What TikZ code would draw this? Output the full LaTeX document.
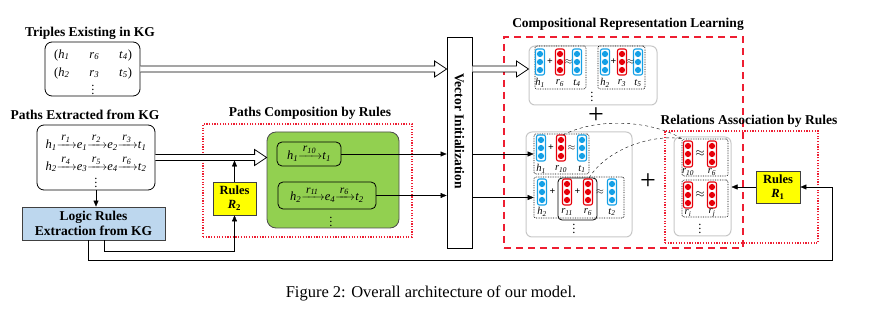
\documentclass[tikz,border=0pt]{standalone}
\usepackage{fontspec}
\setmainfont{Liberation Serif}
\usepackage{amsmath}
\usetikzlibrary{arrows.meta,calc,positioning}

\definecolor{kgblue}{RGB}{189,215,238}
\definecolor{kggreen}{RGB}{146,208,80}
\definecolor{kgyellow}{RGB}{255,255,0}
\definecolor{vecblue}{RGB}{20,160,230}
\definecolor{vecred}{RGB}{230,0,10}
\definecolor{kgred}{RGB}{238,30,50}

\newcommand{\sym}[2]{\textit{#1}\textsubscript{\textit{#2}}}
\newcommand{\lto}[2]{$\xrightarrow{\mbox{\fontsize{11.5}{11.5}\selectfont\,\sym{#1}{#2}\,}}$}
% hollow double arrow between two points at the same height
\newcommand{\hollowarrow}[2]{%
  \draw[line width=0.8pt, fill=white] ($(#1)+(0,-3)$) -- ($(#2)+(-12,-3)$) -- ($(#2)+(-12,-8)$)
    -- (#2) -- ($(#2)+(-12,8)$) -- ($(#2)+(-12,3)$) -- ($(#1)+(0,3)$);}

\tikzset{
  title/.style={font=\fontsize{13.5}{15}\selectfont\bfseries, inner sep=0pt},
  row/.style={font=\fontsize{12.5}{14}\selectfont, inner sep=0pt},
  lab/.style={font=\fontsize{10.5}{11}\selectfont, inner sep=0pt},
  op/.style={font=\fontsize{10}{10}\selectfont\bfseries, inner sep=0pt},
  bigplus/.style={font=\fontsize{28}{28}\selectfont, inner sep=0pt},
  kgbox/.style={draw, line width=0.8pt, rounded corners=7pt, inner sep=0pt},
  logicbox/.style={draw=black!75, line width=0.8pt, fill=kgblue, align=center,
    font=\fontsize{13.5}{15}\selectfont\bfseries, inner sep=0pt},
  rulebox/.style={draw=black!75, line width=0.8pt, fill=kgyellow, align=center,
    font=\fontsize{12.5}{14}\selectfont\bfseries, inner sep=0pt},
  graybox/.style={draw=black!22, line width=1pt, rounded corners=6pt, inner sep=0pt},
  grp/.style={draw, densely dotted, line width=0.7pt, rounded corners=2pt, inner sep=0pt},
  reddot/.style={draw=kgred, dash pattern=on 1.2pt off 1.5pt, line width=1.1pt, inner sep=0pt},
  reddash/.style={draw=kgred, dash pattern=on 7pt off 5pt, line width=1.2pt, inner sep=0pt},
  pics/vec/.style={code={
    \draw[#1, line width=1.1pt, fill=white, rounded corners=2pt] (-4.5,-13) rectangle (4.5,13);
    \foreach \k in {-8,0,8} \fill[#1] (0,\k) circle (3.1);
  }}
}

\begin{document}
\begin{tikzpicture}[x=1pt,y=-1pt,>={Triangle[length=6pt,width=5pt]}]
\useasboundingbox (0,0) rectangle (870,312);

% Triples existing in KG
\node[title] (ttrip) at (90,33) {Triples Existing in KG};
\node[kgbox, minimum width=95pt, minimum height=54pt] (trip) at (92.5,69) {};
\node[row] (trow1) at (93,55) {(\sym{h}{1}\hspace{20pt}\sym{r}{6}\hspace{20pt}\sym{t}{4})};
\node[row] (trow2) at (93,73) {(\sym{h}{2}\hspace{20pt}\sym{r}{3}\hspace{20pt}\sym{t}{5})};
\node[row] (tdots) at (93,87) {$\vdots$};

% Paths extracted from KG
\node[title] (tpath) at (85,115) {Paths Extracted from KG};
\node[kgbox, minimum width=118pt, minimum height=65pt] (paths) at (96,157.5) {};
\node[row] (prow1) at (96,142) {\sym{h}{1}\lto{r}{1}\sym{e}{1}\lto{r}{2}\sym{e}{2}\lto{r}{3}\sym{t}{1}};
\node[row] (prow2) at (96,164) {\sym{h}{2}\lto{r}{4}\sym{e}{3}\lto{r}{5}\sym{e}{4}\lto{r}{6}\sym{t}{2}};
\node[row] (pdots) at (96,180) {$\vdots$};

% Logic rules extraction
\node[logicbox, minimum width=143pt, minimum height=33pt] (logic) at (93.5,223.5) {Logic Rules\\Extraction from KG};
\draw[->] (paths.south) -- (paths.south |- logic.north);

% Paths composition by rules
\node[title] (tcomp) at (310,113) {Paths Composition by Rules};
\node[reddot, minimum width=209pt, minimum height=113pt] (pcr) at (307.5,180.5) {};
\node[draw=black!70, line width=0.8pt, fill=kggreen, rounded corners=9pt, minimum width=132pt, minimum height=96pt] (green) at (333,180) {};
\node[kgbox, fill=kggreen, rounded corners=5pt, minimum width=64pt, minimum height=24pt] (pc1) at (309,154) {};
\node[row] (pc1t) at (309,153) {\sym{h}{1}\lto{r}{10}\sym{t}{1}};
\node[kgbox, fill=kggreen, rounded corners=5pt, minimum width=98pt, minimum height=27pt] (pc2) at (327,195.5) {};
\node[row] (pc2t) at (327,194.5) {\sym{h}{2}\lto{r}{11}\sym{e}{4}\lto{r}{6}\sym{t}{2}};
\node[row] (gdots) at (331,219) {$\vdots$};
\node[rulebox, minimum width=43pt, minimum height=33pt] (R2) at (234.5,198.5) {Rules\\\textit{R}\textsubscript{2}};

% Vector initialization
\node[draw, line width=0.8pt, fill=white, minimum width=25pt, minimum height=211pt] (vinit) at (459.5,142.5) {};
\node[title, rotate=-90] (vtxt) at (459.5,131) {Vector Initialization};

% hollow arrows
\coordinate (a1e) at (vinit.west |- trip.east);
\hollowarrow{trip.east}{a1e}
\coordinate (a2e) at (green.west |- paths.east);
\hollowarrow{paths.east}{a2e}

% rules R2 feed
\coordinate (r2top) at (R2.north |- 0,160.5);
\coordinate (r2bend) at (R2.south |- 0,251);
\draw[->] (R2.north) -- (r2top);
\draw[->] ([xshift=10.5pt]logic.south) |- (r2bend) -- (R2.south);

% composed paths to vector initialization
\draw[->] (pc1.east) -- (pc1.east -| vinit.west);
\draw[->] (pc2.east) -- (pc2.east -| vinit.west);

% Compositional representation learning
\node[title] (tcrl) at (628,24) {Compositional Representation Learning};
\node[reddash, minimum width=239pt, minimum height=211pt] (crl) at (623.5,142.5) {};
\node[graybox, minimum width=128pt, minimum height=59pt] (topg) at (593,75.5) {};
\node[grp, minimum width=51pt, minimum height=43pt] (g1) at (560.5,67.5) {};
\node[grp, minimum width=47pt, minimum height=43pt] (g2) at (621.5,67.5) {};
\foreach \x/\c/\s [count=\i] in {540/vecblue/\sym{h}{1}, 560/vecred/\sym{r}{6}, 577/vecblue/\sym{t}{4},
    605/vecblue/\sym{h}{2}, 622/vecred/\sym{r}{3}, 638/vecblue/\sym{t}{5}} {
  \pic at (\x,62) {vec=\c};
  \node[lab] (tl\i) at (\x,83) {\s};
}
\node[op] (o1) at (550,62) {+};
\node[op] (o2) at (568.5,62) {$\approx$};
\node[op] (o3) at (613.5,62) {+};
\node[op] (o4) at (630.5,62) {$\approx$};
\node[row] (topdots) at (592,94) {$\vdots$};
\node[bigplus] (plus1) at (596,116) {+};

\node[graybox, minimum width=106pt, minimum height=105pt] (botg) at (579,184.5) {};
\node[grp, minimum width=55pt, minimum height=40pt] (gA) at (561.5,154) {};
\node[grp, minimum width=90pt, minimum height=41pt] (gB) at (579,197.5) {};
\node[draw, line width=0.8pt, rounded corners=4pt, minimum width=39pt, minimum height=42pt] (gBin) at (577.5,199) {};
\foreach \x/\c/\s [count=\i] in {541/vecblue/\sym{h}{1}, 561/vecred/\sym{r}{10}, 582/vecblue/\sym{t}{1}} {
  \pic at (\x,148) {vec=\c};
  \node[lab] (al\i) at (\x,169) {\s};
}
\foreach \x/\c/\s [count=\i] in {542/vecblue/\sym{h}{2}, 567/vecred/\sym{r}{11}, 588/vecred/\sym{r}{6}, 612/vecblue/\sym{t}{2}} {
  \pic at (\x,192) {vec=\c};
  \node[lab] (bl\i) at (\x,212) {\s};
}
\node[op] (o5) at (551,148) {+};
\node[op] (o6) at (571.5,148) {$\approx$};
\node[op] (o7) at (552.5,192) {+};
\node[op] (o8) at (577.5,192) {+};
\node[op] (o9) at (600,192) {$\approx$};
\node[row] (botdots) at (574,226) {$\vdots$};
\node[bigplus] (plus2) at (648,182) {+};

\draw[->] (vinit.east |- gA.west) -- (gA.west);
\draw[->] (vinit.east |- gB.west) -- (gB.west);
\hollowarrow{vinit.east |- trip.east}{topg.west |- trip.east}

% Relations association by rules
\node[title] (trar) at (749,121) {Relations Association by Rules};
\node[reddot, minimum width=153pt, minimum height=112pt] (rar) at (741.5,187) {};
\node[graybox, minimum width=57pt, minimum height=99pt] (relg) at (702.5,186.5) {};
\node[grp, minimum width=46pt, minimum height=37pt] (gC) at (705,157.5) {};
\node[grp, minimum width=46pt, minimum height=37pt] (gD) at (705,198.5) {};
\foreach \x/\s [count=\i] in {688/\sym{r}{10}, 712/\sym{r}{6}} {
  \pic at (\x,154) {vec=vecred};
  \node[lab] (cl\i) at (\x,172) {\s};
}
\foreach \x/\s [count=\i] in {688/\sym{r}{i}, 712/\sym{r}{j}} {
  \pic at (\x,195) {vec=vecred};
  \node[lab] (dl\i) at (\x,213) {\s};
}
\node[row] (oc) at (700,154) {$\approx$};
\node[row] (od) at (700,195) {$\approx$};
\node[row] (reldots) at (700,226) {$\vdots$};
\node[rulebox, minimum width=44pt, minimum height=32pt] (R1) at (778,187) {Rules\\\textit{R}\textsubscript{1}};
\draw[->] (R1.west) -- (R1.west -| relg.east);

% links between composed relations and rules
\coordinate (c1s) at (563,135);
\coordinate (c2s) at (589,178);
\draw[dashed] (c1s) .. controls (600,116) and (655,122) .. (gC.north west);
\draw[dashed] (c2s) .. controls (606,150) and (650,134) .. (gC.north west);

% feedback loop to rules R1
\coordinate (loopc) at (832,260);
\draw[->] ([xshift=-5.5pt]logic.south) |- (loopc) |- (R1.east);

% caption
\node[font=\fontsize{16.5}{18}\selectfont, inner sep=0pt] (cap) at (431,293) {Figure 2: Overall architecture of our model.};
\end{tikzpicture}
\end{document}
